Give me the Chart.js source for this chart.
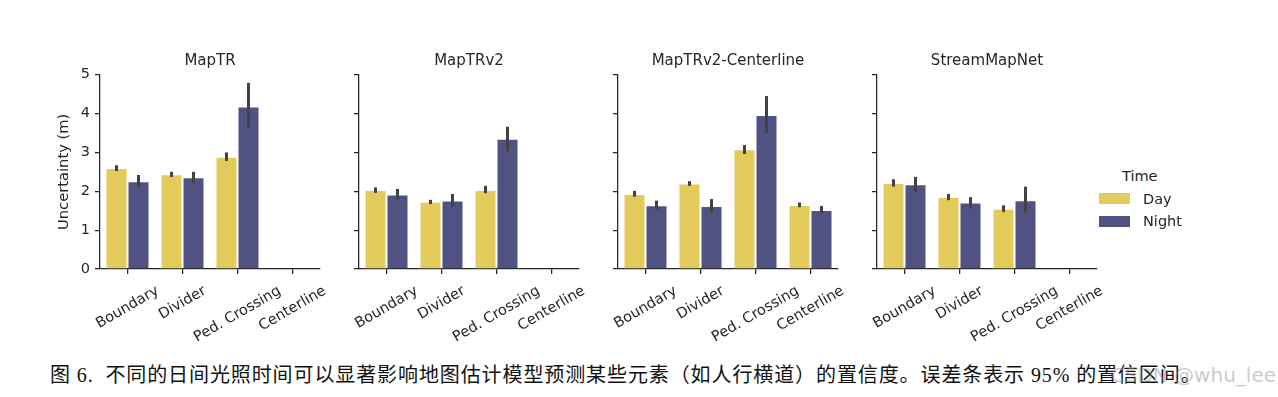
<!DOCTYPE html>
<html>
<head>
<meta charset="utf-8">
<script src="https://cdn.jsdelivr.net/npm/chart.js@4.4.1/dist/chart.umd.min.js"></script>
<style>
  html, body { margin: 0; padding: 0; background: #fff; }
  body { width: 1278px; height: 397px; position: relative; overflow: hidden; font-family: "DejaVu Sans", sans-serif; color: #262626; }
  .panel { position: absolute; top: 61px; width: 280px; height: 284px; }
  .panel canvas { display: block; }
  .ptitle { position: absolute; top: 51px; width: 220px; height: 18px; line-height: 18px; text-align: center; font-size: 15px; }
  .legend { position: absolute; left: 1096px; top: 166px; font-size: 14.5px; }
  .legend .lt { position: absolute; left: 26px; top: 0; line-height: 20px; white-space: nowrap; }
  .legend .sw { position: absolute; left: 3px; width: 31px; height: 11px; }
  .legend .lab { position: absolute; left: 47px; line-height: 20px; white-space: nowrap; }
  .caption { position: absolute; left: 50px; top: 362px; font-family: "Liberation Serif", "Noto Sans CJK SC", serif; font-size: 20px; line-height: 26px; white-space: nowrap; color: #111; letter-spacing: 0.9px; }
  .wm { position: absolute; right: 2px; top: 362px; font-family: "DejaVu Sans", sans-serif; font-size: 20px; line-height: 26px; color: rgba(150,150,150,0.5); white-space: nowrap; }
</style>
</head>
<body>
<div id="root"></div>
<div class="legend">
  <div class="lt">Time</div>
  <div class="sw" style="top:27px;background:#e3cb5b"></div>
  <div class="lab" style="top:23px">Day</div>
  <div class="sw" style="top:50px;background:#505281"></div>
  <div class="lab" style="top:45px">Night</div>
</div>
<div class="caption">图 6.&nbsp;&nbsp;不同的日间光照时间可以显著影响地图估计模型预测某些元素（如人行横道）的置信度。误差条表示 95% 的置信区间。</div>
<div class="wm">CSDN @whu_lee</div>
<script>
// ---- data ----
const categories = ['Boundary', 'Divider', 'Ped. Crossing', 'Centerline'];
const models = ['MapTR', 'MapTRv2', 'MapTRv2-Centerline', 'StreamMapNet'];
const seriesNames = ['Day', 'Night'];
const yTicks = [0, 1, 2, 3, 4, 5];

const mapTRDay      = [2.60, 2.44, 2.89, null];
const mapTRDayLo    = [2.52, 2.37, 2.78, null];
const mapTRDayHi    = [2.67, 2.50, 3.00, null];
const mapTRNight    = [2.26, 2.36, 4.18, null];
const mapTRNightLo  = [2.11, 2.21, 3.64, null];
const mapTRNightHi  = [2.42, 2.50, 4.79, null];

const mapTRv2Day     = [2.03, 1.73, 2.03, null];
const mapTRv2DayLo   = [1.96, 1.67, 1.95, null];
const mapTRv2DayHi   = [2.10, 1.78, 2.14, null];
const mapTRv2Night   = [1.92, 1.76, 3.35, null];
const mapTRv2NightLo = [1.80, 1.61, 3.03, null];
const mapTRv2NightHi = [2.06, 1.93, 3.66, null];

const centerlineDay     = [1.93, 2.20, 3.08, 1.65];
const centerlineDayLo   = [1.86, 2.14, 2.96, 1.59];
const centerlineDayHi   = [2.01, 2.26, 3.19, 1.71];
const centerlineNight   = [1.64, 1.62, 3.96, 1.52];
const centerlineNightLo = [1.54, 1.45, 3.50, 1.44];
const centerlineNightHi = [1.76, 1.80, 4.45, 1.62];

const streamDay     = [2.21, 1.85, 1.55, null];
const streamDayLo   = [2.12, 1.77, 1.47, null];
const streamDayHi   = [2.31, 1.93, 1.64, null];
const streamNight   = [2.18, 1.71, 1.77, null];
const streamNightLo = [1.99, 1.56, 1.46, null];
const streamNightHi = [2.37, 1.85, 2.12, null];

const panelData = [
  { day: mapTRDay, dayLo: mapTRDayLo, dayHi: mapTRDayHi, night: mapTRNight, nightLo: mapTRNightLo, nightHi: mapTRNightHi },
  { day: mapTRv2Day, dayLo: mapTRv2DayLo, dayHi: mapTRv2DayHi, night: mapTRv2Night, nightLo: mapTRv2NightLo, nightHi: mapTRv2NightHi },
  { day: centerlineDay, dayLo: centerlineDayLo, dayHi: centerlineDayHi, night: centerlineNight, nightLo: centerlineNightLo, nightHi: centerlineNightHi },
  { day: streamDay, dayLo: streamDayLo, dayHi: streamDayHi, night: streamNight, nightLo: streamNightLo, nightHi: streamNightHi }
];

// ---- style ----
const DAY_COLOR = '#e3cb5b';
const NIGHT_COLOR = '#505281';
const INK = '#262626';
const panelLefts = [100, 359, 618, 877];

const errorBarPlugin = {
  id: 'errorBars',
  afterDatasetsDraw(chart) {
    const ctx = chart.ctx;
    const ys = chart.scales.y;
    chart.data.datasets.forEach((ds, di) => {
      const meta = chart.getDatasetMeta(di);
      meta.data.forEach((bar, i) => {
        const lo = ds.ciLo[i], hi = ds.ciHi[i];
        if (lo == null || hi == null) return;
        ctx.save();
        ctx.strokeStyle = '#424242';
        ctx.lineWidth = 3;
        ctx.beginPath();
        ctx.moveTo(bar.x, ys.getPixelForValue(lo));
        ctx.lineTo(bar.x, ys.getPixelForValue(hi));
        ctx.stroke();
        ctx.restore();
      });
    });
  }
};

const xLabelPlugin = {
  id: 'rotatedXLabels',
  afterDraw(chart) {
    const ctx = chart.ctx;
    const xs = chart.scales.x;
    const fs = 14.5;
    ctx.save();
    ctx.font = fs + 'px "DejaVu Sans"';
    ctx.fillStyle = INK;
    ctx.textAlign = 'center';
    ctx.textBaseline = 'middle';
    const ang = Math.PI / 6;
    xs.ticks.forEach((t, i) => {
      const label = xs.getLabelForValue(t.value);
      const px = xs.getPixelForTick(i);
      const w = ctx.measureText(label).width;
      const bboxH = w * Math.sin(ang) + fs * 0.95 * Math.cos(ang);
      const cy = xs.top + 15 + bboxH / 2;
      ctx.save();
      ctx.translate(px, cy);
      ctx.rotate(-ang);
      ctx.fillText(label, 0, 0);
      ctx.restore();
    });
    ctx.restore();
  }
};

const root = document.getElementById('root');
models.forEach((name, p) => {
  const wrap = document.createElement('div');
  wrap.className = 'panel';
  wrap.style.left = (panelLefts[p] - 50) + 'px';
  const cv = document.createElement('canvas');
  cv.width = 280;
  cv.height = 284;
  cv.style.width = '280px';
  cv.style.height = '284px';
  wrap.appendChild(cv);
  root.appendChild(wrap);

  const t = document.createElement('div');
  t.className = 'ptitle';
  t.style.left = panelLefts[p] + 'px';
  t.textContent = name;
  root.appendChild(t);

  const d = panelData[p];
  const first = p === 0;
  new Chart(cv, {
    type: 'bar',
    data: {
      labels: categories,
      datasets: [
        { label: seriesNames[0], data: d.day, ciLo: d.dayLo, ciHi: d.dayHi, backgroundColor: DAY_COLOR, borderColor: 'rgba(255,255,255,0.35)', borderWidth: 1, categoryPercentage: 0.8, barPercentage: 1.0 },
        { label: seriesNames[1], data: d.night, ciLo: d.nightLo, ciHi: d.nightHi, backgroundColor: NIGHT_COLOR, borderColor: 'rgba(255,255,255,0.35)', borderWidth: 1, categoryPercentage: 0.8, barPercentage: 1.0 }
      ]
    },
    options: {
      responsive: false,
      maintainAspectRatio: false,
      animation: false,
      devicePixelRatio: 1,
      layout: { padding: { top: 13, right: 10, left: 0, bottom: 0 } },
      plugins: { legend: { display: false }, title: { display: false }, tooltip: { enabled: false } },
      scales: {
        x: {
          type: 'category',
          offset: true,
          grid: { display: true, drawOnChartArea: false, drawTicks: true, tickLength: 5, color: INK, lineWidth: 1.25, offset: false },
          border: { display: true, color: INK, width: 1.25 },
          ticks: { display: false },
          afterFit(scale) { scale.height = 76; }
        },
        y: {
          min: 0, max: 5,
          afterBuildTicks(scale) { scale.ticks = yTicks.map(v => ({ value: v })); },
          grid: { display: true, drawOnChartArea: false, drawTicks: true, tickLength: 5, color: INK, lineWidth: 1.25 },
          border: { display: true, color: INK, width: 1.25 },
          ticks: { color: first ? INK : 'rgba(0,0,0,0)', font: { family: 'DejaVu Sans', size: 14.5 }, padding: 5 },
          title: { display: first, text: 'Uncertainty (m)', color: INK, font: { family: 'DejaVu Sans', size: 14.7 }, padding: { top: 5, bottom: 0 } },
          afterFit(scale) { scale.width = 50; }
        }
      }
    },
    plugins: [errorBarPlugin, xLabelPlugin]
  });
});
</script>
</body>
</html>
